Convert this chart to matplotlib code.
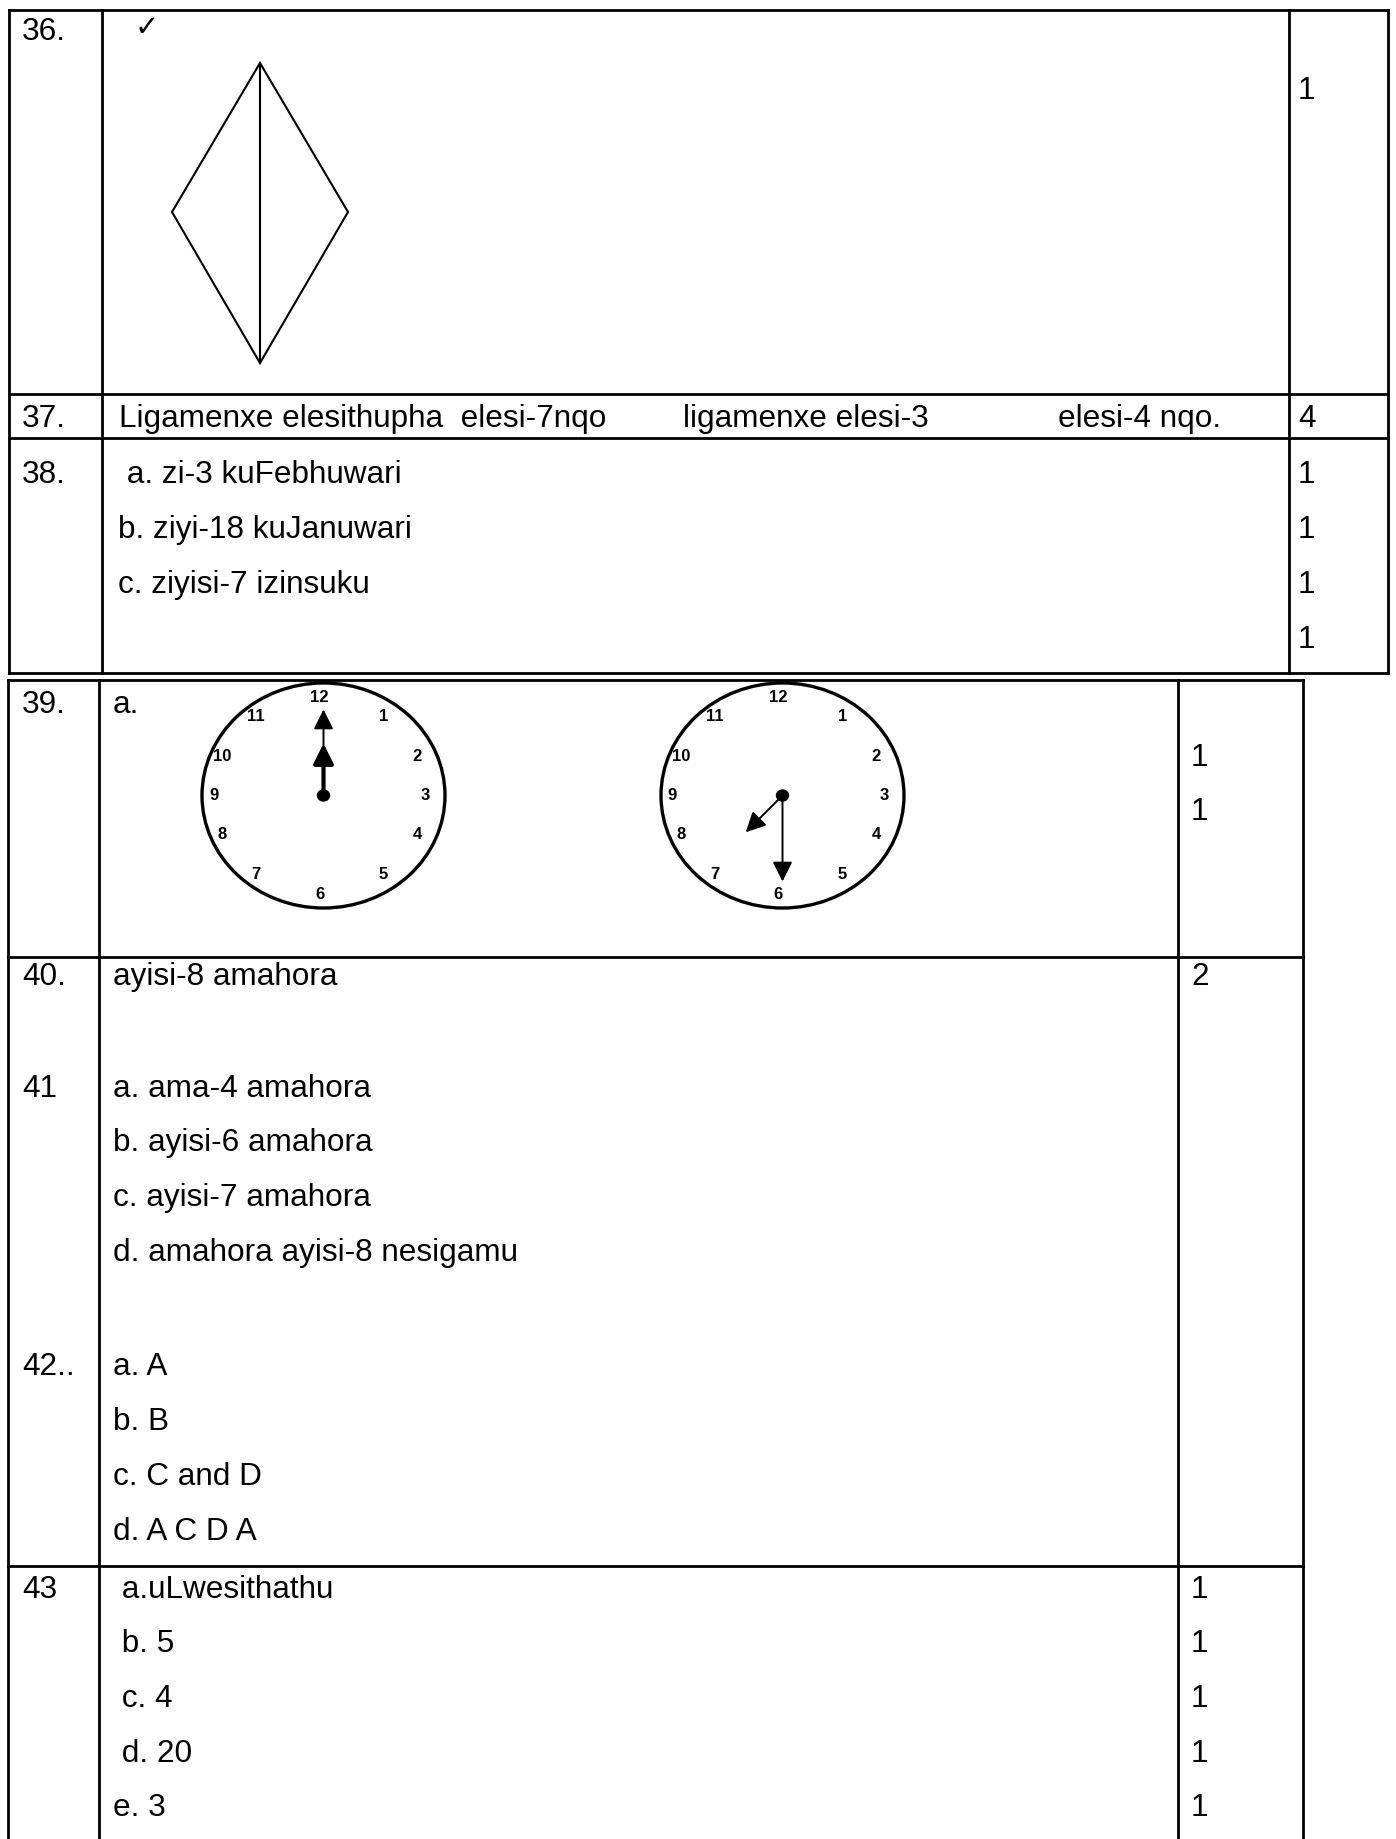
import numpy as np
import matplotlib.pyplot as plt
from matplotlib.patches import Ellipse, Polygon

plt.rcParams['font.family'] = ['Liberation Sans', 'DejaVu Sans']

# question numbers and answers (memo page)
question_labels = ["36.", "37.", "38.", "39.", "40.", "41", "42..", "43"]
q37_parts = ["Ligamenxe elesithupha  elesi-7nqo", "ligamenxe elesi-3", "elesi-4 nqo."]
q38_answers = [" a. zi-3 kuFebhuwari", "b. ziyi-18 kuJanuwari", "c. ziyisi-7 izinsuku"]
q39_label = "a."
q40_answer = "ayisi-8 amahora"
q41_answers = ["a. ama-4 amahora", "b. ayisi-6 amahora", "c. ayisi-7 amahora",
               "d. amahora ayisi-8 nesigamu"]
q42_answers = ["a. A", "b. B", "c. C and D", "d. A C D A"]
q43_answers = [" a.uLwesithathu", " b. 5", " c. 4", " d. 20", "e. 3"]

marks_36 = ["1"]
marks_37 = ["4"]
marks_38 = ["1", "1", "1", "1"]
marks_39 = ["1", "1"]
marks_40 = ["2"]
marks_43 = ["1", "1", "1", "1", "1"]

clock_numbers = [12, 1, 2, 3, 4, 5, 6, 7, 8, 9, 10, 11]
clock_times = [(12, 0), (7, 30)]

# page setup, pixel coordinates
W, H = 1396, 1839
fig = plt.figure(figsize=(W / 100, H / 100), dpi=100)
ax = fig.add_axes([0, 0, 1, 1])
ax.set_xlim(0, W)
ax.set_ylim(H, 0)
ax.axis('off')

FS = 22.7
LW = 2.0


def line(x0, y0, x1, y1, lw=LW):
    ax.plot([x0, x1], [y0, y1], color='black', lw=lw, solid_capstyle='projecting')


def txt(x, y, s, **kw):
    ax.text(x, y, s, fontsize=FS, ha='left', va='baseline', color='black', **kw)


# table 1 grid
t1_x = [9, 102, 1289, 1388]
t1_y = [10, 394, 438, 673]
for y in t1_y:
    line(t1_x[0], y, t1_x[-1], y)
for x in t1_x:
    line(x, t1_y[0], x, t1_y[-1])

# table 2 grid (runs off the bottom of the page)
t2_x = [8, 99, 1178, 1303]
t2_y = [680, 957, 1566]
for y in t2_y:
    line(t2_x[0], y, t2_x[-1], y)
for x in t2_x:
    line(x, t2_y[0], x, H + 5)

num_x = 22
ans1_x, ans2_x = 118, 113
mark1_x, mark2_x = 1298, 1191

# row 36
txt(num_x, 40, question_labels[0])
ax.text(135, 36, '\u2713', fontsize=21, family='DejaVu Sans', ha='left', va='baseline')
txt(mark1_x, 99, marks_36[0])
kx, ktop, kmid, kbot, khw = 260, 63, 212, 363, 88
ax.add_patch(Polygon([(kx, ktop), (kx + khw, kmid), (kx, kbot), (kx - khw, kmid)],
                     closed=True, fill=False, lw=1.5, edgecolor='black'))
line(kx, ktop, kx, kbot, lw=1.5)

# row 37
txt(num_x, 427, question_labels[1])
for x, s in zip([119, 683, 1058], q37_parts):
    txt(x, 427, s)
txt(mark1_x, 427, marks_37[0])

# row 38
txt(num_x, 483, question_labels[2])
for i, s in enumerate(q38_answers):
    txt(ans1_x, 483 + 55 * i, s)
for i, s in enumerate(marks_38):
    txt(mark1_x, 483 + 55 * i, s)

# row 39 with clocks
txt(num_x, 713, question_labels[3])
txt(ans2_x, 713, q39_label)
for i, s in enumerate(marks_39):
    txt(mark2_x, 766 + 54 * i, s)

clock_centers = [(323.5, 795.5), (782.5, 795.5)]
double_hour = [True, False]
for (cx, cy), (hh, mm), dbl in zip(clock_centers, clock_times, double_hour):
    ax.add_patch(Ellipse((cx, cy), 243, 225, fill=False, lw=2.4, edgecolor='black'))
    for n in clock_numbers:
        a = np.radians(30 * (n % 12))
        a2 = a + np.radians(8) * np.sin(2 * a)
        ax.text(cx - 4 + 106 * np.sin(a2), cy - 98.5 * np.cos(a2), str(n),
                fontsize=12, fontweight='bold', ha='center', va='center')
    hands = [(mm * 6, 86, False), ((hh % 12) * 30 + mm * 0.5, 52, dbl)]
    for ang, length, is_double in hands:
        a = np.radians(ang)
        tip = (cx + length * np.sin(a), cy - length * np.cos(a))
        ax.annotate('', xy=tip, xytext=(cx, cy),
                    arrowprops=dict(arrowstyle='-|>,head_length=0.6,head_width=0.3',
                                    mutation_scale=20, lw=3.0 if is_double else 1.4,
                                    color='black', shrinkA=0, shrinkB=0))
        if is_double:
            inner = (cx + (length - 14) * np.sin(a), cy - (length - 14) * np.cos(a))
            ax.plot([cx, inner[0]], [cy - 6, inner[1]], color='white', lw=1.3)
    ax.add_patch(Ellipse((cx, cy), 12, 11, color='black', zorder=5))

# row 40
txt(num_x, 985, question_labels[4])
txt(ans2_x, 985, q40_answer)
txt(mark2_x, 985, marks_40[0])

# row 41
txt(num_x, 1097, question_labels[5])
for i, s in enumerate(q41_answers):
    txt(ans2_x, 1097 + 54.5 * i, s)

# row 42
txt(num_x, 1375, question_labels[6])
for i, s in enumerate(q42_answers):
    txt(ans2_x, 1375 + 55 * i, s)

# row 43
txt(num_x, 1598, question_labels[7])
for i, s in enumerate(q43_answers):
    txt(ans2_x, 1598 + 54.5 * i, s)
for i, s in enumerate(marks_43):
    txt(mark2_x, 1598 + 54.5 * i, s)

fig.savefig('out.png', dpi=100, facecolor='white')
